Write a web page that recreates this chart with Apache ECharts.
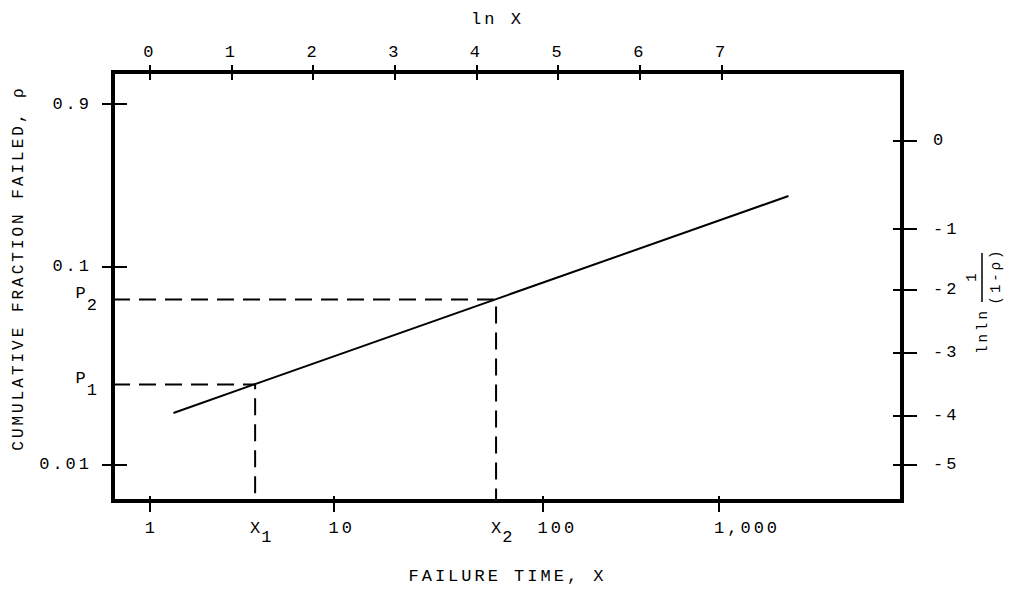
<!DOCTYPE html>
<html><head><meta charset="utf-8">
<script src="https://cdn.jsdelivr.net/npm/echarts@6/dist/echarts.min.js"></script>
<style>
html,body{margin:0;padding:0;background:#fff;}
#chart{width:1011px;height:590px;}
#chart text{letter-spacing:3px;}
</style></head><body><div id="chart"></div>
<script>
// top axis: ln X
const lnTicks = [0, 1, 2, 3, 4, 5, 6, 7];
// bottom axis: failure time labels, at their places on the ln X scale
const timeLabels = ['1', '10', '100', '1,000'];
const timeTickLn = [0, 2.25, 4.81, 6.97];
const markLabels = ['X1', 'X2'];
const markLn = [1.29, 4.24];
// right axis: lnln 1/(1-p)
const lnlnLabels = ['0', '-1', '-2', '-3', '-4', '-5'];
const lnlnPos = [0, -1.36, -2.30, -3.27, -4.24, -5.0];
// left axis: cumulative fraction failed
const probLabels = ['0.9', '0.1', '0.01'];
const probPos = [0.57, -1.94, -5.0];
const pMarkLabels = ['P2', 'P1'];
const pMarkPos = [-2.45, -3.76];
// straight line on the probability plot
const lineX = [0.29, 7.82];
const lineY = [-4.20, -0.85];

const xMin = -0.45, xMax = 9.21, yMin = -5.56, yMax = 1.065;
const FONT = 'Liberation Mono';
const FS = 17;
const richB = {
  n: {fontFamily: FONT, fontSize: FS, color: '#000'},
  m: {fontFamily: FONT, fontSize: FS, color: '#000', lineHeight: 26, verticalAlign: 'top'},
  s: {fontFamily: FONT, fontSize: FS, color: '#000', lineHeight: 26, verticalAlign: 'bottom', padding: [0, 0, 0, 1]}
};
const richL = {
  n: {fontFamily: FONT, fontSize: FS, color: '#000'},
  m: {fontFamily: FONT, fontSize: FS, color: '#000', lineHeight: 29, verticalAlign: 'top', padding: [0, 0, 4, 0]},
  s: {fontFamily: FONT, fontSize: FS, color: '#000', lineHeight: 29, verticalAlign: 'bottom', padding: [0, -8, 0, 1]}
};
function pick(vals, labels, v) {
  let b = 0;
  for (let i = 1; i < vals.length; i++) if (Math.abs(vals[i] - v) < Math.abs(vals[b] - v)) b = i;
  const t = labels[b];
  if (/^[XP]\d$/.test(t)) return '{m|' + t[0] + '}{s|' + t[1] + '}';
  return '{n|' + t + '}';
}
const tickStyle = {color: '#000', width: 2};
function mkAxis(isX, pos, vals, inside, len, extra) {
  const a = {
    type: 'value', position: pos,
    min: isX ? xMin : yMin, max: isX ? xMax : yMax,
    axisLine: {show: false, onZero: false}, splitLine: {show: false},
    axisTick: {show: true, inside: inside, length: len, lineStyle: tickStyle, customValues: vals},
    axisLabel: {show: false}
  };
  if (extra) Object.assign(a, extra);
  return a;
}
const nameStyle = {fontFamily: FONT, fontSize: FS, color: '#000'};
const botVals = timeTickLn.concat(markLn), botLabs = timeLabels.concat(markLabels);
const leftVals = probPos.concat(pMarkPos), leftLabs = probLabels.concat(pMarkLabels);

const chart = echarts.init(document.getElementById('chart'), null, {renderer: 'svg'});
chart.setOption({
  animation: false,
  backgroundColor: '#fff',
  grid: {left: 113, right: 109, top: 72, bottom: 89, show: true, borderColor: '#000', borderWidth: 4,
         backgroundColor: 'transparent', containLabel: false, outerBoundsMode: 'none'},
  xAxis: [
    mkAxis(true, 'bottom', timeTickLn, false, 11, {
      name: 'FAILURE TIME, X', nameLocation: 'middle', nameGap: 67, nameTextStyle: nameStyle,
      axisLabel: {show: true, customValues: botVals, margin: 19, rich: richB, align: 'left', padding: [0, 0, 0, -5],
                  formatter: v => pick(botVals, botLabs, v)}
    }),
    mkAxis(true, 'bottom', timeTickLn, true, 5),
    mkAxis(true, 'top', lnTicks, false, 7, {
      name: 'ln X', nameLocation: 'middle', nameGap: 44, nameTextStyle: Object.assign({padding: [0, 20, 0, 0]}, nameStyle),
      axisLabel: {show: true, customValues: lnTicks, margin: 11, fontFamily: FONT, fontSize: FS, color: '#000',
                  formatter: v => String(Math.round(v))}
    }),
    mkAxis(true, 'top', lnTicks, true, 8)
  ],
  yAxis: [
    mkAxis(false, 'left', probPos, false, 11, {
      axisLabel: {show: true, customValues: leftVals, margin: 21, rich: richL,
                  formatter: v => pick(leftVals, leftLabs, v)}
    }),
    mkAxis(false, 'left', probPos, true, 14),
    mkAxis(false, 'right', lnlnPos, false, 15, {
      axisLabel: {show: true, customValues: lnlnPos, margin: 31, rich: richB,
                  formatter: v => pick(lnlnPos, lnlnLabels, v)}
    }),
    mkAxis(false, 'right', lnlnPos, true, 9)
  ],
  graphic: [
    {type: 'text', x: 19, y: 268, rotation: Math.PI / 2,
     style: {text: 'CUMULATIVE FRACTION FAILED, ρ', fontFamily: FONT, fontSize: 16, fill: '#000',
             align: 'center', verticalAlign: 'middle'}},
    {type: 'group', x: 983, y: 331, rotation: Math.PI / 2, children: [
      {type: 'text', x: 0, y: 0, style: {text: 'lnln', fontFamily: FONT, fontSize: 14, fill: '#000', align: 'center', verticalAlign: 'middle'}},
      {type: 'text', x: 55, y: -11, style: {text: '1', fontFamily: FONT, fontSize: 14, fill: '#000', align: 'center', verticalAlign: 'middle'}},
      {type: 'line', shape: {x1: 29, y1: -1, x2: 78, y2: -1}, style: {stroke: '#000', lineWidth: 1.5}},
      {type: 'text', x: 55, y: 13, style: {text: '(1-ρ)', fontFamily: FONT, fontSize: 14, fill: '#000', align: 'center', verticalAlign: 'middle'}}
    ]}
  ],
  series: [
    {type: 'line', xAxisIndex: 0, yAxisIndex: 0, symbol: 'none', silent: true,
     lineStyle: {color: '#000', width: 2},
     data: lineX.map((x, i) => [x, lineY[i]])},
    {type: 'line', xAxisIndex: 0, yAxisIndex: 0, symbol: 'none', silent: true,
     lineStyle: {color: '#000', width: 2, type: [17, 9]},
     data: [[xMin, pMarkPos[1]], [markLn[0], pMarkPos[1]], [markLn[0], yMin]]},
    {type: 'line', xAxisIndex: 0, yAxisIndex: 0, symbol: 'none', silent: true,
     lineStyle: {color: '#000', width: 2, type: [17, 9]},
     data: [[xMin, pMarkPos[0]], [markLn[1], pMarkPos[0]], [markLn[1], yMin]]}
  ]
});
</script></body></html>
